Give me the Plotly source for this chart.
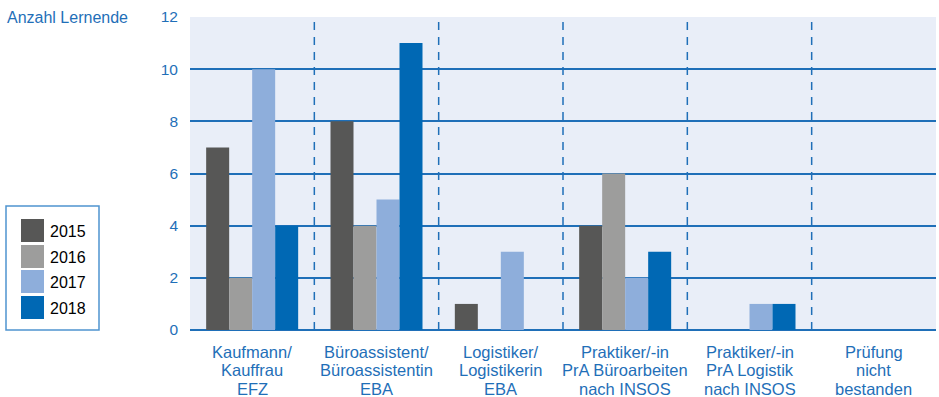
import plotly.graph_objects as go

categories = [
    "Kaufmann/<br>Kauffrau<br>EFZ",
    "Büroassistent/<br>Büroassistentin<br>EBA",
    "Logistiker/<br>Logistikerin<br>EBA",
    "Praktiker/-in<br>PrA Büroarbeiten<br>nach INSOS",
    "Praktiker/-in<br>PrA Logistik<br>nach INSOS",
    "Prüfung<br>nicht<br>bestanden",
]
years = ["2015", "2016", "2017", "2018"]
values_2015 = [7, 8, 1, 4, 0, 0]
values_2016 = [2, 4, 0, 6, 0, 0]
values_2017 = [10, 5, 3, 2, 1, 0]
values_2018 = [4, 11, 0, 3, 1, 0]
y_ticks = [0, 2, 4, 6, 8, 10, 12]

series = [values_2015, values_2016, values_2017, values_2018]
colors = ["#575756", "#9d9d9c", "#8eaedb", "#0068b4"]
blue = "#1f6fb8"
font_family = "Liberation Sans, Arial, sans-serif"

W, H = 939, 397
ML, MR, MT, MB = 190, 3, 17, 67
PW, PH = W - ML - MR, H - MT - MB


def px_x(p):
    return (p - ML) / PW


def px_y(p):
    return (H - MB - p) / PH


fig = go.Figure()
for name, vals, col in zip(years, series, colors):
    fig.add_trace(go.Bar(x=list(range(len(categories))), y=vals, name=name,
                         marker=dict(color=col, line=dict(width=0)),
                         showlegend=False))

# dashed separators between the categories
for i in range(len(categories) - 1):
    fig.add_shape(type="line", xref="x", yref="paper",
                  x0=i + 0.5, x1=i + 0.5, y0=0, y1=1,
                  line=dict(color=blue, width=1.5, dash="8px,7px"))

# category labels, one annotation per line
for i, label in enumerate(categories):
    for j, line in enumerate(label.split("<br>")):
        fig.add_annotation(text=line, xref="x", yref="paper", x=i, y=0,
                           yshift=-(22 + 18.3 * j), xanchor="center",
                           yanchor="middle", showarrow=False,
                           font=dict(color=blue, size=16.5, family=font_family))

fig.add_annotation(text="Anzahl Lernende", xref="paper", yref="paper",
                   x=px_x(5), y=px_y(17), xanchor="left", yanchor="middle",
                   showarrow=False, font=dict(color=blue, size=16, family=font_family))

# legend box with swatches
fig.add_shape(type="rect", xref="paper", yref="paper",
              x0=px_x(6), x1=px_x(99), y0=px_y(330), y1=px_y(206),
              line=dict(color="#4f94d0", width=1.5), fillcolor="white")
swatch_tops = [219, 245, 270, 296]
for name, col, top in zip(years, colors, swatch_tops):
    fig.add_shape(type="rect", xref="paper", yref="paper",
                  x0=px_x(21), x1=px_x(44), y0=px_y(top + 23), y1=px_y(top),
                  line=dict(width=0), fillcolor=col)
    fig.add_annotation(text=name, xref="paper", yref="paper",
                       x=px_x(48), y=px_y(top + 12), xanchor="left",
                       yanchor="middle", showarrow=False,
                       font=dict(color="black", size=16, family=font_family))

fig.update_layout(
    width=W, height=H,
    margin=dict(l=ML, r=MR, t=MT, b=MB),
    paper_bgcolor="white",
    plot_bgcolor="#e9eef8",
    barmode="group",
    bargap=0.26,
    bargroupgap=0,
    showlegend=False,
    font=dict(family=font_family, size=15, color=blue),
    xaxis=dict(range=[-0.5, len(categories) - 0.5], showgrid=False,
               ticks="", showline=False, showticklabels=False),
    yaxis=dict(range=[0, 12], tickvals=y_ticks, showgrid=True,
               gridcolor=blue, gridwidth=1.5, zeroline=True,
               zerolinecolor=blue, zerolinewidth=1.5,
               ticks="", ticklabelstandoff=11,
               tickfont=dict(color=blue, size=15.5)),
)

fig.write_html("out.html")
